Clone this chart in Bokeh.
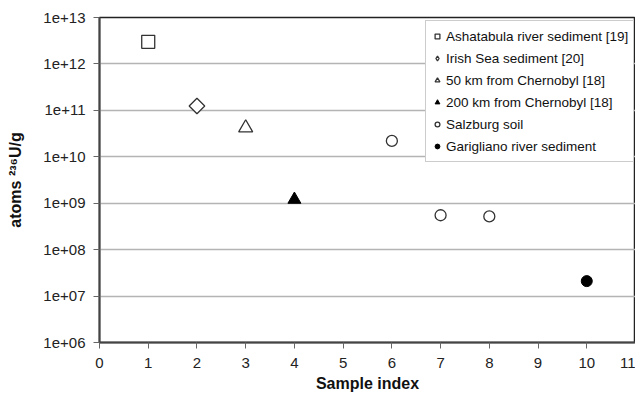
import math
from bokeh.plotting import figure
from bokeh.models import FixedTicker, CustomJSTickFormatter, Legend, LegendItem, Range1d
from bokeh.embed import file_html
from bokeh.resources import INLINE

# Data
labels = ["Ashatabula river sediment [19]", "Irish Sea sediment [20]",
          "50 km from Chernobyl [18]", "200 km from Chernobyl [18]",
          "Salzburg soil", "Garigliano river sediment"]
ashtabula_x = [1]
ashtabula_y = [3.0e12]
irish_x = [2]
irish_y = [1.24e11]
cher50_x = [3]
cher50_y = [4.2e10]
cher200_x = [4]
cher200_y = [1.2e9]
salzburg_x = [6, 7, 8]
salzburg_y = [2.2e10, 5.5e8, 5.2e8]
garigliano_x = [10]
garigliano_y = [2.1e7]

x_ticks = list(range(0, 12))
y_ticks = [1e6, 1e7, 1e8, 1e9, 1e10, 1e11, 1e12, 1e13]

FONT = "Liberation Sans"
DARK = "#333333"

p = figure(width=635, height=394, y_axis_type="log",
           x_range=Range1d(0, 11), y_range=Range1d(1e6, 1e13),
           output_backend="svg", toolbar_location=None,
           min_border_left=99, min_border_right=0, min_border_top=17, min_border_bottom=51)

p.outline_line_color = "#222222"
p.outline_line_width = 1.5
p.background_fill_color = "white"
p.border_fill_color = "white"

p.xgrid.visible = False
p.ygrid.grid_line_color = "#b4b4b4"
p.ygrid.grid_line_width = 1.5
p.ygrid.ticker = FixedTicker(ticks=y_ticks)

p.xaxis.ticker = FixedTicker(ticks=x_ticks)
p.yaxis.ticker = FixedTicker(ticks=y_ticks)
p.yaxis.formatter = CustomJSTickFormatter(code="""
    const e = Math.round(Math.log10(tick));
    return "1e+" + (e < 10 ? "0" + e : "" + e);
""")

for ax in (p.xaxis[0], p.yaxis[0]):
    ax.axis_line_color = "#444444"
    ax.axis_line_width = 2
    ax.major_tick_line_color = "#666666"
    ax.major_tick_line_width = 1
    ax.major_tick_out = 6
    ax.major_tick_in = 0
    ax.minor_tick_line_color = None
    ax.major_label_text_font = FONT
    ax.major_label_text_font_size = "15px"
    ax.major_label_text_color = "#222222"
    ax.axis_label_text_font = FONT
    ax.axis_label_text_font_style = "bold"
    ax.axis_label_text_font_size = "16px"
    ax.axis_label_text_color = "#111111"

p.xaxis.axis_label = "Sample index"
p.xaxis.major_label_standoff = 9
p.xaxis.axis_label_standoff = 4
p.yaxis.axis_label = "atoms \u00b2\u00b3\u2076U/g"
p.yaxis.major_label_standoff = 8
p.yaxis.axis_label_standoff = 16

r1 = p.scatter(ashtabula_x, ashtabula_y, marker="square", size=13,
               fill_color="white", line_color=DARK, line_width=1.3)
# diamond key (hidden under the rotated square, gives the legend a diamond)
r2_key = p.scatter(irish_x, irish_y, marker="diamond", size=12,
                   fill_color="white", line_color=DARK, line_width=1.3)
r2 = p.scatter(irish_x, irish_y, marker="square", size=11, angle=math.pi / 4,
               fill_color="white", line_color=DARK, line_width=1.3)
r3 = p.scatter(cher50_x, cher50_y, marker="triangle", size=14,
               fill_color="white", line_color=DARK, line_width=1.3)
r4 = p.scatter(cher200_x, cher200_y, marker="triangle", size=13,
               fill_color="black", line_color="black", line_width=1)
r5 = p.scatter(salzburg_x, salzburg_y, marker="circle", size=11,
               fill_color="white", line_color=DARK, line_width=1.3)
r6 = p.scatter(garigliano_x, garigliano_y, marker="circle", size=11,
               fill_color="black", line_color="black", line_width=1)

items = [LegendItem(label=l, renderers=[r]) for l, r in
         zip(labels, [r1, r2_key, r3, r4, r5, r6])]
legend = Legend(items=items, location=(326, 180))
legend.label_text_font = FONT
legend.label_text_font_size = "13.5px"
legend.label_text_color = "#111111"
legend.label_height = 20
legend.glyph_height = 14
legend.glyph_width = 12
legend.spacing = 2
legend.padding = 5
legend.label_standoff = 3
legend.border_line_color = "#999999"
legend.border_line_width = 1
legend.background_fill_color = "white"
legend.background_fill_alpha = 1
legend.margin = 0
p.add_layout(legend, "center")

open("out.html", "w").write(file_html(p, INLINE))
